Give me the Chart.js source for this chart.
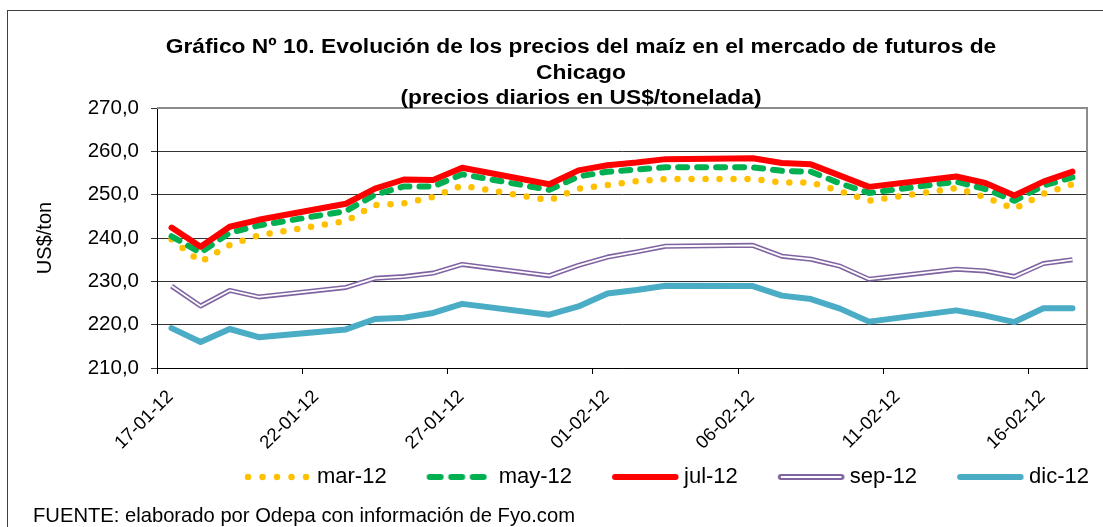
<!DOCTYPE html>
<html><head><meta charset="utf-8">
<script src="https://cdn.jsdelivr.net/npm/chart.js"></script>
<style>
html,body{margin:0;padding:0;background:#fff;}
#wrap{position:relative;width:1103px;height:527px;overflow:hidden;background:#fff;}
#frame{position:absolute;left:7px;top:10px;width:1200px;height:600px;border:1px solid #404040;pointer-events:none;}
#title{position:absolute;left:181px;width:800px;top:34px;text-align:center;font:bold 20px "Liberation Sans",Arial,sans-serif;line-height:25.5px;color:#000;transform:scaleX(1.14);transform-origin:50% 0;}
#source{position:absolute;left:33px;top:504px;font:20.2px "Liberation Sans",Arial,sans-serif;color:#000;white-space:nowrap;}
canvas{position:absolute;left:0;top:0;}
</style></head><body>
<div id="wrap">
<canvas id="c" width="1103" height="527"></canvas>
<div id="frame"></div>
<div id="title">Gráfico Nº 10. Evolución de los precios del maíz en el mercado de futuros de<br>Chicago<br>(precios diarios en US$/tonelada)</div>
<div id="source">FUENTE: elaborado por Odepa con información de Fyo.com</div>
</div>
<script>
// ---- data ----
const dates = ['17-01-12','18-01-12','19-01-12','20-01-12','23-01-12','24-01-12','25-01-12','26-01-12','27-01-12','30-01-12','31-01-12','01-02-12','02-02-12','03-02-12','06-02-12','07-02-12','08-02-12','09-02-12','10-02-12','13-02-12','14-02-12','15-02-12','16-02-12','17-02-12'];
const mar12 = [239.7,234.5,238.4,240.6,243.9,247.6,248.0,249.5,252.1,248.7,251.4,252.2,253.1,253.6,253.6,252.8,252.8,250.8,248.6,251.5,249.4,246.7,250.2,252.4];
const may12 = [240.4,236.6,241.2,242.9,246.2,250.0,251.9,251.9,254.7,251.1,254.2,255.3,255.8,256.3,256.3,255.5,255.3,252.6,250.4,253.0,251.3,248.6,252.1,254.0];
const jul12 = [242.4,238.0,242.6,244.2,247.9,251.4,253.5,253.4,256.2,252.4,255.6,256.8,257.4,258.2,258.4,257.3,257.0,254.4,251.8,254.2,252.7,249.8,253.0,255.3];
const sep12 = [228.9,224.3,227.9,226.4,228.6,230.7,231.1,231.9,233.9,231.3,233.7,235.6,236.8,238.1,238.3,235.8,235.1,233.5,230.5,232.8,232.4,231.1,234.1,235.0];
const dic12 = [219.2,216.0,219.0,217.1,218.9,221.3,221.6,222.7,224.8,222.3,224.2,227.2,228.0,229.0,228.9,226.7,225.9,223.7,220.7,223.3,222.1,220.6,223.8,223.8];
const seriesNames = ['mar-12','may-12','jul-12','sep-12','dic-12'];
const xTickLabels = ['17-01-12','22-01-12','27-01-12','01-02-12','06-02-12','11-02-12','16-02-12'];
const yTickLabels = ['210,0','220,0','230,0','240,0','250,0','260,0','270,0'];
const axisFirstDay = '17-01-12';
const axisLastDay = '18-02-12';

// ---- helpers ----
function toUTC(s){ const p = s.split('-').map(Number); return Date.UTC(2000 + p[2], p[1] - 1, p[0]); }
function dayIdx(s){ return Math.round((toUTC(s) - toUTC(axisFirstDay)) / 86400000); }
function pts(vals){ return vals.map((v, i) => ({x: dayIdx(dates[i]) + 0.5, y: v})); }

const FONT = '"Liberation Sans", Arial, sans-serif';
const FS = 20;
const LEG_FS = 22;
const LEG_BOX = 93;            // legend box width (includes spacing before the sample)
const LEG_IMG = LEG_BOX + 12;  // sample image width (centred on the box)

function sample(draw){
  const c = document.createElement('canvas');
  c.width = LEG_IMG; c.height = 10;
  const g = c.getContext('2d');
  draw(g);
  return c;
}
function seg(g, color, w, dash, cap){
  g.beginPath(); g.strokeStyle = color; g.lineWidth = w; g.lineCap = cap; g.setLineDash(dash);
  g.moveTo(LEG_IMG - 64, 5); g.lineTo(LEG_IMG - 3.5, 5); g.stroke();
}
const legendImgs = [
  sample(g => seg(g, '#FFC000', 6.5, [0, 14.5], 'round')),
  sample(g => seg(g, '#00B050', 6, [11, 10.5], 'round')),
  sample(g => seg(g, '#FF0000', 6, [], 'round')),
  sample(g => { seg(g, '#8064A2', 6, [], 'round'); seg(g, '#FFFFFF', 2, [], 'butt'); }),
  sample(g => seg(g, '#4BACC6', 6, [], 'round')),
];

const plotFrame = {
  id: 'plotFrame',
  beforeDatasetsDraw(chart){
    const a = chart.chartArea, ctx = chart.ctx;
    ctx.save();
    ctx.strokeStyle = '#8C8C8C'; ctx.lineWidth = 2;
    ctx.beginPath();
    ctx.moveTo(a.left, a.top); ctx.lineTo(a.right, a.top); ctx.lineTo(a.right, a.bottom);
    ctx.stroke();
    ctx.restore();
  }
};
const legendShift = {
  id: 'legendShift',
  afterLayout(chart){ chart.legend.left += 29; chart.legend.right += 29; }
};

const common = {pointRadius: 0, tension: 0, borderJoinStyle: 'round', fill: false};

new Chart(document.getElementById('c'), {
  type: 'line',
  data: {
    datasets: [
      Object.assign({label: 'sep-12 inner', data: pts(sep12), borderColor: '#FFFFFF', borderWidth: 1.8, order: 0}, common),
      Object.assign({label: seriesNames[2], data: pts(jul12), borderColor: '#FF0000', borderWidth: 6, borderCapStyle: 'round', order: 1}, common),
      Object.assign({label: seriesNames[1], data: pts(may12), borderColor: '#00B050', borderWidth: 6, borderDash: [9, 10], borderCapStyle: 'round', order: 2}, common),
      Object.assign({label: seriesNames[0], data: pts(mar12), borderColor: '#FFC000', borderWidth: 6.5, borderDash: [0, 14], borderCapStyle: 'round', order: 3}, common),
      Object.assign({label: seriesNames[3], data: pts(sep12), borderColor: '#8064A2', borderWidth: 5, order: 4}, common),
      Object.assign({label: seriesNames[4], data: pts(dic12), borderColor: '#4BACC6', borderWidth: 6, borderCapStyle: 'round', order: 5}, common),
    ]
  },
  options: {
    responsive: false,
    animation: false,
    events: [],
    layout: {padding: {left: 30, right: 16, top: 108, bottom: 29}},
    plugins: {
      title: {display: false},
      tooltip: {enabled: false},
      legend: {
        position: 'bottom',
        fullSize: false,
        labels: {
          usePointStyle: true,
          pointStyleWidth: LEG_BOX,
          padding: 8,
          color: '#000',
          font: {family: FONT, size: LEG_FS},
          generateLabels: () => seriesNames.map((n, i) => ({
            text: n, pointStyle: legendImgs[i], fillStyle: 'rgba(0,0,0,0)', strokeStyle: 'rgba(0,0,0,0)',
            lineWidth: 1, hidden: false, fontColor: '#000'
          }))
        }
      }
    },
    scales: {
      x: {
        type: 'linear',
        min: dayIdx(axisFirstDay),
        max: dayIdx(axisLastDay),
        afterFit: s => { s.height = 90; },
        afterBuildTicks: s => { s.ticks = xTickLabels.map(l => ({value: dayIdx(l)})); },
        grid: {drawOnChartArea: false, drawTicks: true, tickLength: 6, color: '#000', lineWidth: 1},
        border: {color: '#000', width: 1},
        ticks: {
          autoSkip: false, minRotation: 45, maxRotation: 45, labelOffset: 13.5, padding: 12,
          color: '#000', font: {family: FONT, size: 18.5},
          callback: (v, i) => xTickLabels[i]
        }
      },
      y: {
        min: 210, max: 270,
        afterFit: s => { s.width = 127; },
        afterBuildTicks: s => { s.ticks = yTickLabels.map(l => ({value: parseFloat(l.replace(',', '.'))})); },
        grid: {color: '#333', lineWidth: 1, tickLength: 6, drawTicks: true},
        border: {color: '#000', width: 1},
        title: {display: true, text: 'US$/ton', color: '#000', font: {family: FONT, size: FS}, padding: {top: 3, bottom: 0}},
        ticks: {
          padding: 12, color: '#000', font: {family: FONT, size: 20.5},
          callback: (v, i) => yTickLabels[i]
        }
      }
    }
  },
  plugins: [plotFrame, legendShift]
});
</script>
</body></html>
